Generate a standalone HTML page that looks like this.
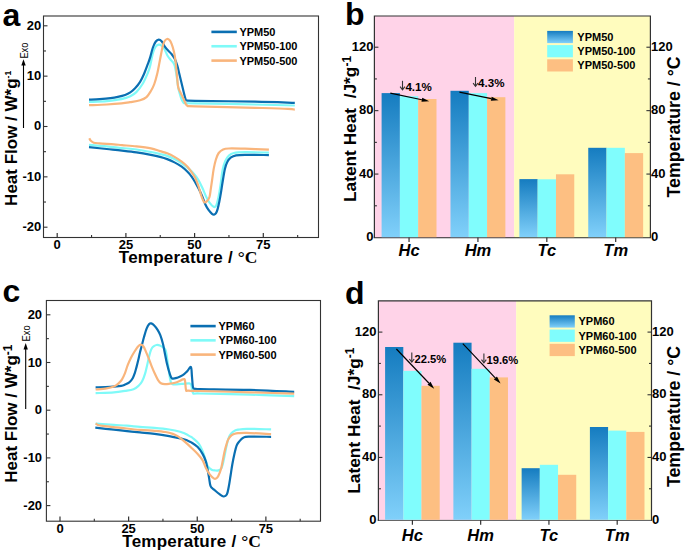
<!DOCTYPE html>
<html><head><meta charset="utf-8"><style>
html,body{margin:0;padding:0;background:#fff;width:685px;height:553px;overflow:hidden}
svg{display:block}
text{font-family:"Liberation Sans",sans-serif}
</style></head><body>
<svg width="685" height="553" viewBox="0 0 685 553">
<defs><linearGradient id="gb" x1="0" y1="0" x2="0" y2="1"><stop offset="0" stop-color="#157cc0"/><stop offset="1" stop-color="#80d0fa"/></linearGradient></defs>
<rect width="685" height="553" fill="#fff"/>
<path d="M89.00 101.90 C91.98 101.78 102.10 101.57 106.90 101.20 C111.70 100.83 114.77 100.22 117.80 99.70 C120.83 99.18 123.02 98.67 125.10 98.10 C127.18 97.53 128.43 97.30 130.30 96.30 C132.17 95.30 134.23 94.18 136.30 92.10 C138.37 90.02 140.78 86.98 142.70 83.80 C144.62 80.62 146.58 75.88 147.80 73.00 C149.02 70.12 149.15 69.80 150.00 66.50 C150.85 63.20 151.93 56.53 152.90 53.20 C153.87 49.87 154.83 47.93 155.80 46.50 C156.77 45.07 157.73 44.75 158.70 44.60 C159.67 44.45 160.63 44.83 161.60 45.60 C162.57 46.37 163.53 47.55 164.50 49.20 C165.47 50.85 166.45 53.82 167.40 55.50 C168.35 57.18 169.25 58.15 170.20 59.30 C171.15 60.45 172.35 61.35 173.10 62.40 C173.85 63.45 174.17 63.73 174.70 65.60 C175.23 67.47 175.72 70.00 176.30 73.60 C176.88 77.20 177.58 83.73 178.20 87.20 C178.82 90.67 179.40 92.28 180.00 94.40 C180.60 96.52 181.20 98.50 181.80 99.90 C182.40 101.30 182.90 102.27 183.60 102.80 C184.30 103.33 184.10 103.02 186.00 103.10 C187.90 103.18 183.50 103.07 195.00 103.30 C206.50 103.53 238.37 104.13 255.00 104.50 C271.63 104.87 288.17 105.33 294.80 105.50" fill="none" stroke="#7ffaf8" stroke-width="2.20" stroke-linejoin="round" stroke-linecap="butt"/>
<path d="M89.00 99.70 C90.77 99.60 96.02 99.37 99.60 99.10 C103.18 98.83 107.47 98.47 110.50 98.10 C113.53 97.73 115.37 97.42 117.80 96.90 C120.23 96.38 123.02 95.75 125.10 95.00 C127.18 94.25 128.63 93.52 130.30 92.40 C131.97 91.28 133.47 90.05 135.10 88.30 C136.73 86.55 138.63 84.23 140.10 81.90 C141.57 79.57 142.62 77.25 143.90 74.30 C145.18 71.35 146.78 66.93 147.80 64.20 C148.82 61.47 149.15 60.68 150.00 57.90 C150.85 55.12 151.93 50.23 152.90 47.50 C153.87 44.77 154.83 42.82 155.80 41.50 C156.77 40.18 157.73 39.65 158.70 39.60 C159.67 39.55 160.63 40.12 161.60 41.20 C162.57 42.28 163.42 44.53 164.50 46.10 C165.58 47.67 166.90 49.25 168.10 50.60 C169.30 51.95 170.62 52.87 171.70 54.20 C172.78 55.53 173.67 56.70 174.60 58.60 C175.53 60.50 176.52 63.07 177.30 65.60 C178.08 68.13 178.62 70.97 179.30 73.80 C179.98 76.63 180.68 79.62 181.40 82.60 C182.12 85.58 182.93 89.03 183.60 91.70 C184.27 94.37 184.83 97.13 185.40 98.60 C185.97 100.07 185.40 100.13 187.00 100.50 C188.60 100.87 183.67 100.60 195.00 100.80 C206.33 101.00 238.37 101.37 255.00 101.70 C271.63 102.03 288.17 102.62 294.80 102.80" fill="none" stroke="#0a6fb2" stroke-width="2.20" stroke-linejoin="round" stroke-linecap="butt"/>
<path d="M89.00 105.20 C91.98 105.08 101.48 104.80 106.90 104.50 C112.32 104.20 117.65 103.78 121.50 103.40 C125.35 103.02 126.90 102.72 130.00 102.20 C133.10 101.68 137.35 101.15 140.10 100.30 C142.85 99.45 144.70 98.65 146.50 97.10 C148.30 95.55 149.60 93.18 150.90 91.00 C152.20 88.82 153.22 87.00 154.30 84.00 C155.38 81.00 156.55 76.52 157.40 73.00 C158.25 69.48 158.77 66.15 159.40 62.90 C160.03 59.65 160.65 56.27 161.20 53.50 C161.75 50.73 162.15 48.35 162.70 46.30 C163.25 44.25 163.78 42.42 164.50 41.20 C165.22 39.98 166.17 39.18 167.00 39.00 C167.83 38.82 168.72 39.25 169.50 40.10 C170.28 40.95 170.97 42.22 171.70 44.10 C172.43 45.98 173.28 48.75 173.90 51.40 C174.52 54.05 175.00 57.05 175.40 60.00 C175.80 62.95 176.00 66.08 176.30 69.10 C176.60 72.12 176.88 75.08 177.20 78.10 C177.52 81.12 177.58 84.63 178.20 87.20 C178.82 89.77 180.00 91.53 180.90 93.50 C181.80 95.47 182.77 97.22 183.60 99.00 C184.43 100.78 185.15 103.03 185.90 104.20 C186.65 105.37 186.58 105.65 188.10 106.00 C189.62 106.35 183.85 106.00 195.00 106.30 C206.15 106.60 239.52 107.38 255.00 107.80 C270.48 108.22 281.27 108.48 287.90 108.80 C294.53 109.12 293.65 109.55 294.80 109.70" fill="none" stroke="#f9b57c" stroke-width="2.20" stroke-linejoin="round" stroke-linecap="butt"/>
<path d="M89.00 144.80 C91.95 145.05 101.20 145.77 106.70 146.30 C112.20 146.83 117.03 147.47 122.00 148.00 C126.97 148.53 131.68 148.83 136.50 149.50 C141.32 150.17 146.98 151.25 150.90 152.00 C154.82 152.75 157.28 153.35 160.00 154.00 C162.72 154.65 164.78 155.05 167.20 155.90 C169.62 156.75 172.08 157.85 174.50 159.10 C176.92 160.35 179.30 161.77 181.70 163.40 C184.10 165.03 186.85 167.15 188.90 168.90 C190.95 170.65 192.43 172.10 194.00 173.90 C195.57 175.70 196.93 177.43 198.30 179.70 C199.67 181.97 200.87 184.62 202.20 187.50 C203.53 190.38 205.08 194.48 206.30 197.00 C207.52 199.52 208.28 200.97 209.50 202.60 C210.72 204.23 212.52 206.25 213.60 206.80 C214.68 207.35 215.33 206.87 216.00 205.90 C216.67 204.93 217.05 203.17 217.60 201.00 C218.15 198.83 218.75 195.98 219.30 192.90 C219.85 189.82 220.35 186.32 220.90 182.50 C221.45 178.68 221.87 173.58 222.60 170.00 C223.33 166.42 224.25 163.40 225.30 161.00 C226.35 158.60 227.47 156.93 228.90 155.60 C230.33 154.27 231.22 153.57 233.90 153.00 C236.58 152.43 239.17 152.27 245.00 152.20 C250.83 152.13 264.92 152.53 268.90 152.60" fill="none" stroke="#7ffaf8" stroke-width="2.20" stroke-linejoin="round" stroke-linecap="butt"/>
<path d="M89.00 147.10 C91.95 147.42 101.20 148.42 106.70 149.00 C112.20 149.58 117.03 150.03 122.00 150.60 C126.97 151.17 131.68 151.68 136.50 152.40 C141.32 153.12 146.98 154.15 150.90 154.90 C154.82 155.65 157.28 156.20 160.00 156.90 C162.72 157.60 164.78 158.18 167.20 159.10 C169.62 160.02 172.08 161.13 174.50 162.40 C176.92 163.67 179.53 165.13 181.70 166.70 C183.87 168.27 185.82 170.12 187.50 171.80 C189.18 173.48 190.48 175.00 191.80 176.80 C193.12 178.60 194.27 180.65 195.40 182.60 C196.53 184.55 197.47 186.25 198.60 188.50 C199.73 190.75 201.07 193.43 202.20 196.10 C203.33 198.77 204.32 202.15 205.40 204.50 C206.48 206.85 207.60 208.65 208.70 210.20 C209.80 211.75 211.12 213.07 212.00 213.80 C212.88 214.53 213.33 214.70 214.00 214.60 C214.67 214.50 215.40 214.12 216.00 213.20 C216.60 212.28 217.05 211.00 217.60 209.10 C218.15 207.20 218.75 204.50 219.30 201.80 C219.85 199.10 220.35 196.20 220.90 192.90 C221.45 189.60 221.93 186.00 222.60 182.00 C223.27 178.00 224.10 172.28 224.90 168.90 C225.70 165.52 226.38 163.62 227.40 161.70 C228.42 159.78 229.55 158.47 231.00 157.40 C232.45 156.33 233.77 155.73 236.10 155.30 C238.43 154.87 239.53 154.83 245.00 154.80 C250.47 154.77 264.92 155.05 268.90 155.10" fill="none" stroke="#0a6fb2" stroke-width="2.20" stroke-linejoin="round" stroke-linecap="butt"/>
<path d="M89.30 138.30 C89.55 138.72 90.07 140.07 90.80 140.80 C91.53 141.53 92.25 142.27 93.70 142.70 C95.15 143.13 96.13 143.13 99.50 143.40 C102.87 143.67 110.15 144.02 113.90 144.30 C117.65 144.58 118.23 144.75 122.00 145.10 C125.77 145.45 131.68 145.85 136.50 146.40 C141.32 146.95 146.98 147.62 150.90 148.40 C154.82 149.18 157.28 150.28 160.00 151.10 C162.72 151.92 164.78 152.33 167.20 153.30 C169.62 154.27 172.08 155.52 174.50 156.90 C176.92 158.28 179.53 159.97 181.70 161.60 C183.87 163.23 185.82 164.88 187.50 166.70 C189.18 168.52 190.48 170.57 191.80 172.50 C193.12 174.43 194.27 175.97 195.40 178.30 C196.53 180.63 197.60 183.55 198.60 186.50 C199.60 189.45 200.47 193.38 201.40 196.00 C202.33 198.62 203.25 201.37 204.20 202.20 C205.15 203.03 206.22 201.87 207.10 201.00 C207.98 200.13 208.90 198.90 209.50 197.00 C210.10 195.10 210.27 192.43 210.70 189.60 C211.13 186.77 211.60 183.45 212.10 180.00 C212.60 176.55 213.07 172.32 213.70 168.90 C214.33 165.48 215.07 162.15 215.90 159.50 C216.73 156.85 217.50 154.68 218.70 153.00 C219.90 151.32 221.40 150.15 223.10 149.40 C224.80 148.65 225.25 148.62 228.90 148.50 C232.55 148.38 238.33 148.52 245.00 148.70 C251.67 148.88 264.92 149.45 268.90 149.60" fill="none" stroke="#f9b57c" stroke-width="2.20" stroke-linejoin="round" stroke-linecap="butt"/>
<rect x="43.50" y="16.00" width="275.00" height="221.50" fill="none" stroke="#333" stroke-width="1.1"/>
<line x1="43.50" y1="25.80" x2="47.50" y2="25.80" stroke="#333" stroke-width="1.1"/>
<text x="41.20" y="29.55" font-size="13.00" font-weight="bold" font-style="normal" text-anchor="end" font-family='"Liberation Sans", sans-serif' >20</text>
<line x1="43.50" y1="76.15" x2="47.50" y2="76.15" stroke="#333" stroke-width="1.1"/>
<text x="41.20" y="79.90" font-size="13.00" font-weight="bold" font-style="normal" text-anchor="end" font-family='"Liberation Sans", sans-serif' >10</text>
<line x1="43.50" y1="126.50" x2="47.50" y2="126.50" stroke="#333" stroke-width="1.1"/>
<text x="41.20" y="130.25" font-size="13.00" font-weight="bold" font-style="normal" text-anchor="end" font-family='"Liberation Sans", sans-serif' >0</text>
<line x1="43.50" y1="176.85" x2="47.50" y2="176.85" stroke="#333" stroke-width="1.1"/>
<text x="41.20" y="180.60" font-size="13.00" font-weight="bold" font-style="normal" text-anchor="end" font-family='"Liberation Sans", sans-serif' >-10</text>
<line x1="43.50" y1="227.20" x2="47.50" y2="227.20" stroke="#333" stroke-width="1.1"/>
<text x="41.20" y="230.95" font-size="13.00" font-weight="bold" font-style="normal" text-anchor="end" font-family='"Liberation Sans", sans-serif' >-20</text>
<line x1="43.50" y1="50.97" x2="46.00" y2="50.97" stroke="#333" stroke-width="1.1"/>
<line x1="43.50" y1="101.33" x2="46.00" y2="101.33" stroke="#333" stroke-width="1.1"/>
<line x1="43.50" y1="151.68" x2="46.00" y2="151.68" stroke="#333" stroke-width="1.1"/>
<line x1="43.50" y1="202.03" x2="46.00" y2="202.03" stroke="#333" stroke-width="1.1"/>
<line x1="57.20" y1="237.50" x2="57.20" y2="232.90" stroke="#333" stroke-width="1.2"/>
<text x="57.20" y="248.80" font-size="13.00" font-weight="bold" font-style="normal" text-anchor="middle" font-family='"Liberation Sans", sans-serif' >0</text>
<line x1="125.90" y1="237.50" x2="125.90" y2="232.90" stroke="#333" stroke-width="1.2"/>
<text x="125.90" y="248.80" font-size="13.00" font-weight="bold" font-style="normal" text-anchor="middle" font-family='"Liberation Sans", sans-serif' >25</text>
<line x1="194.60" y1="237.50" x2="194.60" y2="232.90" stroke="#333" stroke-width="1.2"/>
<text x="194.60" y="248.80" font-size="13.00" font-weight="bold" font-style="normal" text-anchor="middle" font-family='"Liberation Sans", sans-serif' >50</text>
<line x1="263.30" y1="237.50" x2="263.30" y2="232.90" stroke="#333" stroke-width="1.2"/>
<text x="263.30" y="248.80" font-size="13.00" font-weight="bold" font-style="normal" text-anchor="middle" font-family='"Liberation Sans", sans-serif' >75</text>
<line x1="91.55" y1="237.50" x2="91.55" y2="235.00" stroke="#333" stroke-width="1.1"/>
<line x1="160.25" y1="237.50" x2="160.25" y2="235.00" stroke="#333" stroke-width="1.1"/>
<line x1="228.95" y1="237.50" x2="228.95" y2="235.00" stroke="#333" stroke-width="1.1"/>
<line x1="297.65" y1="237.50" x2="297.65" y2="235.00" stroke="#333" stroke-width="1.1"/>
<line x1="211.40" y1="31.90" x2="236.80" y2="31.90" stroke="#0a6fb2" stroke-width="2.6"/>
<text x="239.40" y="35.90" font-size="11.00" font-weight="bold" font-style="normal" text-anchor="start" font-family='"Liberation Sans", sans-serif' >YPM50</text>
<line x1="211.40" y1="46.25" x2="236.80" y2="46.25" stroke="#7ffaf8" stroke-width="2.6"/>
<text x="239.40" y="50.25" font-size="11.00" font-weight="bold" font-style="normal" text-anchor="start" font-family='"Liberation Sans", sans-serif' >YPM50-100</text>
<line x1="211.40" y1="60.60" x2="236.80" y2="60.60" stroke="#f9b57c" stroke-width="2.6"/>
<text x="239.40" y="64.60" font-size="11.00" font-weight="bold" font-style="normal" text-anchor="start" font-family='"Liberation Sans", sans-serif' >YPM50-500</text>
<text x="2.50" y="25.50" font-size="32.00" font-weight="bold" font-style="normal" text-anchor="start" font-family='"Liberation Sans", sans-serif' >a</text>
<text transform="translate(16.80 205.90) rotate(-90)" font-size="17" font-weight="bold" font-family='"Liberation Sans", sans-serif' text-anchor="start">Heat Flow / W*g<tspan font-size="8.6" dy="-6.2">-1</tspan></text>
<line x1="23.50" y1="128.00" x2="23.50" y2="64.20" stroke="#000" stroke-width="1.1"/>
<path d="M23.50 59.20 L21.30 65.50 L25.70 65.50 Z" fill="#000"/>
<text transform="translate(28.00 58.60) rotate(-90) scale(0.88 1)" font-size="10.6" font-family='"Liberation Sans", sans-serif' text-anchor="start">Exo</text>
<text x="118.80" y="262.60" font-size="17" font-weight="bold" font-family='"Liberation Sans", sans-serif' letter-spacing="0.22">Temperature / <tspan font-family='"Liberation Serif", serif' font-weight="bold" font-size="17.5" letter-spacing="0">°C</tspan></text>
<path d="M95.60 393.10 C98.65 392.98 109.00 392.77 113.90 392.40 C118.80 392.03 121.73 391.43 125.00 390.90 C128.27 390.37 131.23 390.05 133.50 389.20 C135.77 388.35 137.18 387.07 138.60 385.80 C140.02 384.53 140.93 383.58 142.00 381.60 C143.07 379.62 144.15 376.60 145.00 373.90 C145.85 371.20 146.47 368.08 147.10 365.40 C147.73 362.72 148.27 360.03 148.80 357.80 C149.33 355.57 149.77 353.63 150.30 352.00 C150.83 350.37 151.38 348.98 152.00 348.00 C152.62 347.02 153.25 346.60 154.00 346.10 C154.75 345.60 155.52 345.10 156.50 345.00 C157.48 344.90 158.67 345.00 159.90 345.50 C161.13 346.00 162.92 347.10 163.90 348.00 C164.88 348.90 165.23 348.92 165.80 350.90 C166.37 352.88 166.80 356.75 167.30 359.90 C167.80 363.05 168.30 366.48 168.80 369.80 C169.30 373.12 169.68 377.40 170.30 379.80 C170.92 382.20 170.60 383.52 172.50 384.20 C174.40 384.88 178.90 384.03 181.70 383.90 C184.50 383.77 187.68 383.13 189.30 383.40 C190.92 383.67 190.77 383.88 191.40 385.50 C192.03 387.12 191.67 391.77 193.10 393.10 C194.53 394.43 190.52 393.25 200.00 393.50 C209.48 393.75 234.30 394.15 250.00 394.60 C265.70 395.05 286.83 395.93 294.20 396.20" fill="none" stroke="#7ffaf8" stroke-width="2.20" stroke-linejoin="round" stroke-linecap="butt"/>
<path d="M95.60 387.30 C98.03 387.22 105.93 387.05 110.20 386.80 C114.47 386.55 118.73 386.17 121.20 385.80 C123.67 385.43 123.65 385.17 125.00 384.60 C126.35 384.03 128.02 383.47 129.30 382.40 C130.58 381.33 131.78 379.75 132.70 378.20 C133.62 376.65 134.17 374.95 134.80 373.10 C135.43 371.25 135.93 369.23 136.50 367.10 C137.07 364.97 137.63 362.70 138.20 360.30 C138.77 357.90 139.33 355.05 139.90 352.70 C140.47 350.35 140.92 348.82 141.60 346.20 C142.28 343.58 143.15 339.98 144.00 337.00 C144.85 334.02 145.83 330.47 146.70 328.30 C147.57 326.13 148.45 324.82 149.20 324.00 C149.95 323.18 150.40 323.20 151.20 323.40 C152.00 323.60 152.93 324.13 154.00 325.20 C155.07 326.27 156.55 328.13 157.60 329.80 C158.65 331.47 159.40 332.83 160.30 335.20 C161.20 337.57 162.28 341.20 163.00 344.00 C163.72 346.80 163.97 348.85 164.60 352.00 C165.23 355.15 165.93 359.27 166.80 362.90 C167.67 366.53 168.93 371.22 169.80 373.80 C170.67 376.38 170.75 377.75 172.00 378.40 C173.25 379.05 175.50 378.23 177.30 377.70 C179.10 377.17 181.17 376.25 182.80 375.20 C184.43 374.15 185.75 372.75 187.10 371.40 C188.45 370.05 190.08 366.18 190.90 367.10 C191.72 368.02 191.63 373.47 192.00 376.90 C192.37 380.33 192.47 385.72 193.10 387.70 C193.73 389.68 194.65 388.57 195.80 388.80 C196.95 389.03 190.97 388.92 200.00 389.10 C209.03 389.28 234.30 389.45 250.00 389.90 C265.70 390.35 286.83 391.48 294.20 391.80" fill="none" stroke="#0a6fb2" stroke-width="2.20" stroke-linejoin="round" stroke-linecap="butt"/>
<path d="M95.60 389.50 C97.43 389.32 103.55 388.90 106.60 388.40 C109.65 387.90 111.95 387.30 113.90 386.50 C115.85 385.70 116.97 384.75 118.30 383.60 C119.63 382.45 120.78 381.35 121.90 379.60 C123.02 377.85 124.05 375.47 125.00 373.10 C125.95 370.73 126.60 367.95 127.60 365.40 C128.60 362.85 129.87 360.07 131.00 357.80 C132.13 355.53 133.27 353.65 134.40 351.80 C135.53 349.95 136.78 347.90 137.80 346.70 C138.82 345.50 139.55 344.63 140.50 344.60 C141.45 344.57 142.58 345.28 143.50 346.50 C144.42 347.72 145.10 349.83 146.00 351.90 C146.90 353.97 147.92 356.42 148.90 358.90 C149.88 361.38 150.90 364.32 151.90 366.80 C152.90 369.28 153.90 371.63 154.90 373.80 C155.90 375.97 156.90 378.23 157.90 379.80 C158.90 381.37 159.73 382.47 160.90 383.20 C162.07 383.93 163.42 384.12 164.90 384.20 C166.38 384.28 168.12 383.95 169.80 383.70 C171.48 383.45 173.38 383.15 175.00 382.70 C176.62 382.25 178.20 381.55 179.50 381.00 C180.80 380.45 181.90 379.55 182.80 379.40 C183.70 379.25 184.37 378.35 184.90 380.10 C185.43 381.85 185.45 388.13 186.00 389.90 C186.55 391.67 185.87 390.52 188.20 390.70 C190.53 390.88 189.70 390.73 200.00 391.00 C210.30 391.27 234.30 391.85 250.00 392.30 C265.70 392.75 286.83 393.47 294.20 393.70" fill="none" stroke="#f9b57c" stroke-width="2.20" stroke-linejoin="round" stroke-linecap="butt"/>
<path d="M95.60 423.70 C98.65 423.90 108.67 424.57 113.90 424.90 C119.13 425.23 122.65 425.37 127.00 425.70 C131.35 426.03 135.40 426.53 140.00 426.90 C144.60 427.27 149.73 427.47 154.60 427.90 C159.47 428.33 164.95 428.87 169.20 429.50 C173.45 430.13 177.42 430.98 180.10 431.70 C182.78 432.42 183.65 433.02 185.30 433.80 C186.95 434.58 188.78 435.70 190.00 436.40 C191.22 437.10 191.12 436.75 192.60 438.00 C194.08 439.25 197.22 441.65 198.90 443.90 C200.58 446.15 201.63 448.97 202.70 451.50 C203.77 454.03 204.45 456.63 205.30 459.10 C206.15 461.57 206.75 464.53 207.80 466.30 C208.85 468.07 210.32 469.00 211.60 469.70 C212.88 470.40 214.35 470.38 215.50 470.50 C216.65 470.62 217.58 470.67 218.50 470.40 C219.42 470.13 220.30 469.88 221.00 468.90 C221.70 467.92 222.05 466.97 222.70 464.50 C223.35 462.03 224.25 457.28 224.90 454.10 C225.55 450.92 225.95 448.15 226.60 445.40 C227.25 442.65 228.00 439.63 228.80 437.60 C229.60 435.57 230.38 434.37 231.40 433.20 C232.42 432.03 233.80 431.18 234.90 430.60 C236.00 430.02 236.00 430.00 238.00 429.70 C240.00 429.40 241.38 428.85 246.90 428.80 C252.42 428.75 267.07 429.30 271.10 429.40" fill="none" stroke="#7ffaf8" stroke-width="2.20" stroke-linejoin="round" stroke-linecap="butt"/>
<path d="M95.30 427.70 C98.40 428.03 108.62 429.13 113.90 429.70 C119.18 430.27 122.65 430.65 127.00 431.10 C131.35 431.55 135.40 431.93 140.00 432.40 C144.60 432.87 149.73 433.28 154.60 433.90 C159.47 434.52 165.30 435.43 169.20 436.10 C173.10 436.77 175.57 437.37 178.00 437.90 C180.43 438.43 182.22 438.85 183.80 439.30 C185.38 439.75 186.25 440.08 187.50 440.60 C188.75 441.12 189.60 441.32 191.30 442.40 C193.00 443.48 195.80 445.15 197.70 447.10 C199.60 449.05 201.33 451.68 202.70 454.10 C204.07 456.52 205.05 458.87 205.90 461.60 C206.75 464.33 207.27 467.75 207.80 470.50 C208.33 473.25 208.68 475.63 209.10 478.10 C209.52 480.57 209.85 483.68 210.30 485.30 C210.75 486.92 211.17 487.07 211.80 487.80 C212.43 488.53 212.87 488.68 214.10 489.70 C215.33 490.72 217.62 492.77 219.20 493.90 C220.78 495.03 222.33 496.38 223.60 496.50 C224.87 496.62 225.95 496.18 226.80 494.60 C227.65 493.02 228.08 490.10 228.70 487.00 C229.32 483.90 229.90 479.75 230.50 476.00 C231.10 472.25 231.65 468.15 232.30 464.50 C232.95 460.85 233.68 457.25 234.40 454.10 C235.12 450.95 235.73 447.77 236.60 445.60 C237.47 443.43 238.50 442.40 239.60 441.10 C240.70 439.80 241.73 438.53 243.20 437.80 C244.67 437.07 243.75 436.87 248.40 436.70 C253.05 436.53 267.32 436.78 271.10 436.80" fill="none" stroke="#0a6fb2" stroke-width="2.20" stroke-linejoin="round" stroke-linecap="butt"/>
<path d="M95.60 423.50 C95.97 423.73 96.57 424.50 97.80 424.90 C99.03 425.30 99.10 425.40 103.00 425.90 C106.90 426.40 115.03 427.23 121.20 427.90 C127.37 428.57 134.43 429.42 140.00 429.90 C145.57 430.38 150.35 430.45 154.60 430.80 C158.85 431.15 162.47 431.48 165.50 432.00 C168.53 432.52 170.72 433.17 172.80 433.90 C174.88 434.63 176.42 435.43 178.00 436.40 C179.58 437.37 180.85 438.53 182.30 439.70 C183.75 440.87 185.20 442.07 186.70 443.40 C188.20 444.73 189.47 445.92 191.30 447.70 C193.13 449.48 195.80 451.98 197.70 454.10 C199.60 456.22 201.33 458.08 202.70 460.40 C204.07 462.72 204.73 465.68 205.90 468.00 C207.07 470.32 208.33 472.53 209.70 474.30 C211.07 476.07 212.97 477.95 214.10 478.60 C215.23 479.25 215.80 478.62 216.50 478.20 C217.20 477.78 217.55 477.63 218.30 476.10 C219.05 474.57 220.27 471.52 221.00 469.00 C221.73 466.48 222.13 463.78 222.70 461.00 C223.27 458.22 223.82 454.90 224.40 452.30 C224.98 449.70 225.55 447.57 226.20 445.40 C226.85 443.23 227.43 440.97 228.30 439.30 C229.17 437.63 230.30 436.33 231.40 435.40 C232.50 434.47 233.80 434.07 234.90 433.70 C236.00 433.33 236.00 433.33 238.00 433.20 C240.00 433.07 241.38 432.75 246.90 432.90 C252.42 433.05 267.07 433.90 271.10 434.10" fill="none" stroke="#f9b57c" stroke-width="2.20" stroke-linejoin="round" stroke-linecap="butt"/>
<rect x="46.40" y="300.50" width="274.10" height="220.70" fill="none" stroke="#333" stroke-width="1.1"/>
<line x1="46.40" y1="314.80" x2="50.40" y2="314.80" stroke="#333" stroke-width="1.1"/>
<text x="42.10" y="318.90" font-size="13.00" font-weight="bold" font-style="normal" text-anchor="end" font-family='"Liberation Sans", sans-serif' >20</text>
<line x1="46.40" y1="362.50" x2="50.40" y2="362.50" stroke="#333" stroke-width="1.1"/>
<text x="42.10" y="366.60" font-size="13.00" font-weight="bold" font-style="normal" text-anchor="end" font-family='"Liberation Sans", sans-serif' >10</text>
<line x1="46.40" y1="410.20" x2="50.40" y2="410.20" stroke="#333" stroke-width="1.1"/>
<text x="42.10" y="414.30" font-size="13.00" font-weight="bold" font-style="normal" text-anchor="end" font-family='"Liberation Sans", sans-serif' >0</text>
<line x1="46.40" y1="457.90" x2="50.40" y2="457.90" stroke="#333" stroke-width="1.1"/>
<text x="42.10" y="462.00" font-size="13.00" font-weight="bold" font-style="normal" text-anchor="end" font-family='"Liberation Sans", sans-serif' >-10</text>
<line x1="46.40" y1="505.60" x2="50.40" y2="505.60" stroke="#333" stroke-width="1.1"/>
<text x="42.10" y="509.70" font-size="13.00" font-weight="bold" font-style="normal" text-anchor="end" font-family='"Liberation Sans", sans-serif' >-20</text>
<line x1="46.40" y1="338.65" x2="48.90" y2="338.65" stroke="#333" stroke-width="1.1"/>
<line x1="46.40" y1="386.35" x2="48.90" y2="386.35" stroke="#333" stroke-width="1.1"/>
<line x1="46.40" y1="434.05" x2="48.90" y2="434.05" stroke="#333" stroke-width="1.1"/>
<line x1="46.40" y1="481.75" x2="48.90" y2="481.75" stroke="#333" stroke-width="1.1"/>
<line x1="60.00" y1="521.20" x2="60.00" y2="516.60" stroke="#333" stroke-width="1.2"/>
<text x="60.00" y="532.50" font-size="13.00" font-weight="bold" font-style="normal" text-anchor="middle" font-family='"Liberation Sans", sans-serif' >0</text>
<line x1="128.62" y1="521.20" x2="128.62" y2="516.60" stroke="#333" stroke-width="1.2"/>
<text x="128.62" y="532.50" font-size="13.00" font-weight="bold" font-style="normal" text-anchor="middle" font-family='"Liberation Sans", sans-serif' >25</text>
<line x1="197.25" y1="521.20" x2="197.25" y2="516.60" stroke="#333" stroke-width="1.2"/>
<text x="197.25" y="532.50" font-size="13.00" font-weight="bold" font-style="normal" text-anchor="middle" font-family='"Liberation Sans", sans-serif' >50</text>
<line x1="265.88" y1="521.20" x2="265.88" y2="516.60" stroke="#333" stroke-width="1.2"/>
<text x="265.88" y="532.50" font-size="13.00" font-weight="bold" font-style="normal" text-anchor="middle" font-family='"Liberation Sans", sans-serif' >75</text>
<line x1="94.31" y1="521.20" x2="94.31" y2="518.70" stroke="#333" stroke-width="1.1"/>
<line x1="162.94" y1="521.20" x2="162.94" y2="518.70" stroke="#333" stroke-width="1.1"/>
<line x1="231.56" y1="521.20" x2="231.56" y2="518.70" stroke="#333" stroke-width="1.1"/>
<line x1="300.19" y1="521.20" x2="300.19" y2="518.70" stroke="#333" stroke-width="1.1"/>
<line x1="190.40" y1="326.10" x2="215.70" y2="326.10" stroke="#0a6fb2" stroke-width="2.6"/>
<text x="218.50" y="330.10" font-size="11.00" font-weight="bold" font-style="normal" text-anchor="start" font-family='"Liberation Sans", sans-serif' >YPM60</text>
<line x1="190.40" y1="340.35" x2="215.70" y2="340.35" stroke="#7ffaf8" stroke-width="2.6"/>
<text x="218.50" y="344.35" font-size="11.00" font-weight="bold" font-style="normal" text-anchor="start" font-family='"Liberation Sans", sans-serif' >YPM60-100</text>
<line x1="190.40" y1="354.60" x2="215.70" y2="354.60" stroke="#f9b57c" stroke-width="2.6"/>
<text x="218.50" y="358.60" font-size="11.00" font-weight="bold" font-style="normal" text-anchor="start" font-family='"Liberation Sans", sans-serif' >YPM60-500</text>
<text x="2.50" y="301.50" font-size="32.00" font-weight="bold" font-style="normal" text-anchor="start" font-family='"Liberation Sans", sans-serif' >c</text>
<text transform="translate(17.10 482.70) rotate(-90)" font-size="17" font-weight="bold" font-family='"Liberation Sans", sans-serif' text-anchor="start">Heat Flow / W*g<tspan font-size="12.0" dy="-5.4">-1</tspan></text>
<line x1="25.70" y1="409.00" x2="25.70" y2="348.10" stroke="#000" stroke-width="1.1"/>
<path d="M25.70 343.10 L23.50 349.40 L27.90 349.40 Z" fill="#000"/>
<text transform="translate(30.20 341.40) rotate(-90) scale(0.88 1)" font-size="10.6" font-family='"Liberation Sans", sans-serif' text-anchor="start">Exo</text>
<text x="122.30" y="547.10" font-size="17" font-weight="bold" font-family='"Liberation Sans", sans-serif' letter-spacing="0.22">Temperature / <tspan font-family='"Liberation Serif", serif' font-weight="bold" font-size="17.5" letter-spacing="0">°C</tspan></text>
<line x1="373.80" y1="237.50" x2="651.00" y2="237.50" stroke="#333" stroke-width="1.45"/>
<rect x="374.40" y="16.00" width="139.80" height="221.20" fill="#ffd3e8"/>
<rect x="514.20" y="16.00" width="136.20" height="221.20" fill="#fffcbe"/>
<rect x="381.60" y="93.10" width="18.30" height="144.10" fill="url(#gb)"/>
<rect x="399.90" y="96.20" width="18.30" height="141.00" fill="#80fdfd"/>
<rect x="418.20" y="99.00" width="18.30" height="138.20" fill="#fdbf82"/>
<rect x="450.48" y="90.80" width="18.30" height="146.40" fill="url(#gb)"/>
<rect x="468.78" y="93.10" width="18.30" height="144.10" fill="#80fdfd"/>
<rect x="487.08" y="97.20" width="18.30" height="140.00" fill="#fdbf82"/>
<rect x="519.37" y="179.10" width="18.30" height="58.10" fill="url(#gb)"/>
<rect x="537.67" y="179.30" width="18.30" height="57.90" fill="#80fdfd"/>
<rect x="555.97" y="174.30" width="18.30" height="62.90" fill="#fdbf82"/>
<rect x="588.25" y="147.80" width="18.30" height="89.40" fill="url(#gb)"/>
<rect x="606.55" y="147.80" width="18.30" height="89.40" fill="#80fdfd"/>
<rect x="624.85" y="153.10" width="18.30" height="84.10" fill="#fdbf82"/>
<path d="M374.40 238.10 V16.00 H650.40 V238.10" fill="none" stroke="#333" stroke-width="1.2"/>
<text x="373.50" y="241.20" font-size="13.00" font-weight="bold" font-style="normal" text-anchor="end" font-family='"Liberation Sans", sans-serif' >0</text>
<text x="651.00" y="241.20" font-size="13.00" font-weight="bold" font-style="normal" text-anchor="start" font-family='"Liberation Sans", sans-serif' >0</text>
<line x1="374.40" y1="174.07" x2="378.40" y2="174.07" stroke="#333" stroke-width="1.1"/>
<line x1="650.40" y1="174.07" x2="646.40" y2="174.07" stroke="#333" stroke-width="1.1"/>
<text x="373.50" y="177.77" font-size="13.00" font-weight="bold" font-style="normal" text-anchor="end" font-family='"Liberation Sans", sans-serif' >40</text>
<text x="651.00" y="177.77" font-size="13.00" font-weight="bold" font-style="normal" text-anchor="start" font-family='"Liberation Sans", sans-serif' >40</text>
<line x1="374.40" y1="110.64" x2="378.40" y2="110.64" stroke="#333" stroke-width="1.1"/>
<line x1="650.40" y1="110.64" x2="646.40" y2="110.64" stroke="#333" stroke-width="1.1"/>
<text x="373.50" y="114.34" font-size="13.00" font-weight="bold" font-style="normal" text-anchor="end" font-family='"Liberation Sans", sans-serif' >80</text>
<text x="651.00" y="114.34" font-size="13.00" font-weight="bold" font-style="normal" text-anchor="start" font-family='"Liberation Sans", sans-serif' >80</text>
<line x1="374.40" y1="47.22" x2="378.40" y2="47.22" stroke="#333" stroke-width="1.1"/>
<line x1="650.40" y1="47.22" x2="646.40" y2="47.22" stroke="#333" stroke-width="1.1"/>
<text x="373.50" y="50.92" font-size="13.00" font-weight="bold" font-style="normal" text-anchor="end" font-family='"Liberation Sans", sans-serif' >120</text>
<text x="651.00" y="50.92" font-size="13.00" font-weight="bold" font-style="normal" text-anchor="start" font-family='"Liberation Sans", sans-serif' >120</text>
<line x1="374.40" y1="205.79" x2="376.90" y2="205.79" stroke="#333" stroke-width="1.1"/>
<line x1="650.40" y1="205.79" x2="647.90" y2="205.79" stroke="#333" stroke-width="1.1"/>
<line x1="374.40" y1="142.36" x2="376.90" y2="142.36" stroke="#333" stroke-width="1.1"/>
<line x1="650.40" y1="142.36" x2="647.90" y2="142.36" stroke="#333" stroke-width="1.1"/>
<line x1="374.40" y1="78.93" x2="376.90" y2="78.93" stroke="#333" stroke-width="1.1"/>
<line x1="650.40" y1="78.93" x2="647.90" y2="78.93" stroke="#333" stroke-width="1.1"/>
<line x1="409.05" y1="237.50" x2="409.05" y2="242.10" stroke="#333" stroke-width="1.2"/>
<text x="409.05" y="255.80" font-size="16.50" font-weight="bold" font-style="italic" text-anchor="middle" font-family='"Liberation Sans", sans-serif' >Hc</text>
<line x1="477.93" y1="237.50" x2="477.93" y2="242.10" stroke="#333" stroke-width="1.2"/>
<text x="477.93" y="255.80" font-size="16.50" font-weight="bold" font-style="italic" text-anchor="middle" font-family='"Liberation Sans", sans-serif' >Hm</text>
<line x1="546.82" y1="237.50" x2="546.82" y2="242.10" stroke="#333" stroke-width="1.2"/>
<text x="546.82" y="255.80" font-size="16.50" font-weight="bold" font-style="italic" text-anchor="middle" font-family='"Liberation Sans", sans-serif' >Tc</text>
<line x1="615.70" y1="237.50" x2="615.70" y2="242.10" stroke="#333" stroke-width="1.2"/>
<text x="615.70" y="255.80" font-size="16.50" font-weight="bold" font-style="italic" text-anchor="middle" font-family='"Liberation Sans", sans-serif' >Tm</text>
<rect x="547.20" y="30.90" width="25.70" height="12.20" fill="url(#gb)"/>
<text x="577.30" y="40.90" font-size="11.00" font-weight="bold" font-style="normal" text-anchor="start" font-family='"Liberation Sans", sans-serif' >YPM50</text>
<rect x="547.20" y="45.10" width="25.70" height="12.20" fill="#80fdfd"/>
<text x="577.30" y="55.10" font-size="11.00" font-weight="bold" font-style="normal" text-anchor="start" font-family='"Liberation Sans", sans-serif' >YPM50-100</text>
<rect x="547.20" y="59.30" width="25.70" height="12.20" fill="#fdbf82"/>
<text x="577.30" y="69.30" font-size="11.00" font-weight="bold" font-style="normal" text-anchor="start" font-family='"Liberation Sans", sans-serif' >YPM50-500</text>
<text x="345.00" y="25.00" font-size="32.00" font-weight="bold" font-style="normal" text-anchor="start" font-family='"Liberation Sans", sans-serif' >b</text>
<line x1="390.30" y1="93.10" x2="421.86" y2="99.75" stroke="#000" stroke-width="1.15"/>
<path d="M429.20 101.30 L421.43 101.81 L422.29 97.70 Z" fill="#000"/>
<line x1="459.40" y1="92.10" x2="491.26" y2="98.68" stroke="#000" stroke-width="1.15"/>
<path d="M498.60 100.20 L490.83 100.74 L491.68 96.63 Z" fill="#000"/>
<line x1="402.50" y1="80.80" x2="402.50" y2="89.40" stroke="#333" stroke-width="1.1"/>
<path d="M400.10 86.70 L402.50 89.90 L404.90 86.70" fill="none" stroke="#333" stroke-width="1.1"/>
<text x="405.40" y="90.80" font-size="11.60" font-weight="bold" font-family='"Liberation Sans", sans-serif'>4.1%</text>
<line x1="475.50" y1="77.00" x2="475.50" y2="85.80" stroke="#333" stroke-width="1.1"/>
<path d="M473.10 83.10 L475.50 86.30 L477.90 83.10" fill="none" stroke="#333" stroke-width="1.1"/>
<text x="478.10" y="86.60" font-size="11.60" font-weight="bold" font-family='"Liberation Sans", sans-serif'>4.3%</text>
<text transform="translate(356.20 202.00) rotate(-90)" font-size="17.3" font-weight="bold" font-family='"Liberation Sans", sans-serif' text-anchor="start" style="white-space:pre">Latent Heat  /J*g<tspan font-size="12" dy="-5.6">-1</tspan></text>
<text transform="translate(680.20 126.90) rotate(-90)" font-size="17.8" font-weight="bold" font-family='"Liberation Sans", sans-serif' text-anchor="middle">Temperature / °C</text>
<line x1="377.80" y1="520.10" x2="652.10" y2="520.10" stroke="#333" stroke-width="1.45"/>
<rect x="378.40" y="300.80" width="137.80" height="219.00" fill="#ffd3e8"/>
<rect x="516.20" y="300.80" width="135.30" height="219.00" fill="#fffcbe"/>
<rect x="385.10" y="347.00" width="18.20" height="172.80" fill="url(#gb)"/>
<rect x="403.30" y="370.90" width="18.20" height="148.90" fill="#80fdfd"/>
<rect x="421.50" y="385.80" width="18.20" height="134.00" fill="#fdbf82"/>
<rect x="453.37" y="342.70" width="18.20" height="177.10" fill="url(#gb)"/>
<rect x="471.57" y="368.80" width="18.20" height="151.00" fill="#80fdfd"/>
<rect x="489.77" y="377.40" width="18.20" height="142.40" fill="#fdbf82"/>
<rect x="521.63" y="468.20" width="18.20" height="51.60" fill="url(#gb)"/>
<rect x="539.83" y="464.80" width="18.20" height="55.00" fill="#80fdfd"/>
<rect x="558.03" y="474.80" width="18.20" height="45.00" fill="#fdbf82"/>
<rect x="589.90" y="427.00" width="18.20" height="92.80" fill="url(#gb)"/>
<rect x="608.10" y="430.60" width="18.20" height="89.20" fill="#80fdfd"/>
<rect x="626.30" y="431.90" width="18.20" height="87.90" fill="#fdbf82"/>
<path d="M378.40 520.70 V300.80 H651.50 V520.70" fill="none" stroke="#333" stroke-width="1.2"/>
<text x="376.50" y="523.80" font-size="13.00" font-weight="bold" font-style="normal" text-anchor="end" font-family='"Liberation Sans", sans-serif' >0</text>
<text x="652.10" y="523.80" font-size="13.00" font-weight="bold" font-style="normal" text-anchor="start" font-family='"Liberation Sans", sans-serif' >0</text>
<line x1="378.40" y1="457.43" x2="382.40" y2="457.43" stroke="#333" stroke-width="1.1"/>
<line x1="651.50" y1="457.43" x2="647.50" y2="457.43" stroke="#333" stroke-width="1.1"/>
<text x="376.50" y="461.13" font-size="13.00" font-weight="bold" font-style="normal" text-anchor="end" font-family='"Liberation Sans", sans-serif' >40</text>
<text x="652.10" y="461.13" font-size="13.00" font-weight="bold" font-style="normal" text-anchor="start" font-family='"Liberation Sans", sans-serif' >40</text>
<line x1="378.40" y1="394.76" x2="382.40" y2="394.76" stroke="#333" stroke-width="1.1"/>
<line x1="651.50" y1="394.76" x2="647.50" y2="394.76" stroke="#333" stroke-width="1.1"/>
<text x="376.50" y="398.46" font-size="13.00" font-weight="bold" font-style="normal" text-anchor="end" font-family='"Liberation Sans", sans-serif' >80</text>
<text x="652.10" y="398.46" font-size="13.00" font-weight="bold" font-style="normal" text-anchor="start" font-family='"Liberation Sans", sans-serif' >80</text>
<line x1="378.40" y1="332.10" x2="382.40" y2="332.10" stroke="#333" stroke-width="1.1"/>
<line x1="651.50" y1="332.10" x2="647.50" y2="332.10" stroke="#333" stroke-width="1.1"/>
<text x="376.50" y="335.80" font-size="13.00" font-weight="bold" font-style="normal" text-anchor="end" font-family='"Liberation Sans", sans-serif' >120</text>
<text x="652.10" y="335.80" font-size="13.00" font-weight="bold" font-style="normal" text-anchor="start" font-family='"Liberation Sans", sans-serif' >120</text>
<line x1="378.40" y1="488.77" x2="380.90" y2="488.77" stroke="#333" stroke-width="1.1"/>
<line x1="651.50" y1="488.77" x2="649.00" y2="488.77" stroke="#333" stroke-width="1.1"/>
<line x1="378.40" y1="426.10" x2="380.90" y2="426.10" stroke="#333" stroke-width="1.1"/>
<line x1="651.50" y1="426.10" x2="649.00" y2="426.10" stroke="#333" stroke-width="1.1"/>
<line x1="378.40" y1="363.43" x2="380.90" y2="363.43" stroke="#333" stroke-width="1.1"/>
<line x1="651.50" y1="363.43" x2="649.00" y2="363.43" stroke="#333" stroke-width="1.1"/>
<line x1="412.40" y1="520.10" x2="412.40" y2="524.70" stroke="#333" stroke-width="1.2"/>
<text x="412.40" y="541.30" font-size="16.50" font-weight="bold" font-style="italic" text-anchor="middle" font-family='"Liberation Sans", sans-serif' >Hc</text>
<line x1="480.67" y1="520.10" x2="480.67" y2="524.70" stroke="#333" stroke-width="1.2"/>
<text x="480.67" y="541.30" font-size="16.50" font-weight="bold" font-style="italic" text-anchor="middle" font-family='"Liberation Sans", sans-serif' >Hm</text>
<line x1="548.93" y1="520.10" x2="548.93" y2="524.70" stroke="#333" stroke-width="1.2"/>
<text x="548.93" y="541.30" font-size="16.50" font-weight="bold" font-style="italic" text-anchor="middle" font-family='"Liberation Sans", sans-serif' >Tc</text>
<line x1="617.20" y1="520.10" x2="617.20" y2="524.70" stroke="#333" stroke-width="1.2"/>
<text x="617.20" y="541.30" font-size="16.50" font-weight="bold" font-style="italic" text-anchor="middle" font-family='"Liberation Sans", sans-serif' >Tm</text>
<rect x="549.60" y="315.30" width="25.20" height="12.30" fill="url(#gb)"/>
<text x="578.50" y="325.30" font-size="11.00" font-weight="bold" font-style="normal" text-anchor="start" font-family='"Liberation Sans", sans-serif' >YPM60</text>
<rect x="549.60" y="329.55" width="25.20" height="12.30" fill="#80fdfd"/>
<text x="578.50" y="339.55" font-size="11.00" font-weight="bold" font-style="normal" text-anchor="start" font-family='"Liberation Sans", sans-serif' >YPM60-100</text>
<rect x="549.60" y="343.80" width="25.20" height="12.30" fill="#fdbf82"/>
<text x="578.50" y="353.80" font-size="11.00" font-weight="bold" font-style="normal" text-anchor="start" font-family='"Liberation Sans", sans-serif' >YPM60-500</text>
<text x="345.00" y="304.00" font-size="32.00" font-weight="bold" font-style="normal" text-anchor="start" font-family='"Liberation Sans", sans-serif' >d</text>
<line x1="396.40" y1="349.00" x2="429.03" y2="383.27" stroke="#000" stroke-width="1.15"/>
<path d="M434.20 388.70 L427.51 384.72 L430.55 381.82 Z" fill="#000"/>
<line x1="462.80" y1="343.70" x2="495.44" y2="378.06" stroke="#000" stroke-width="1.15"/>
<path d="M500.60 383.50 L493.91 379.51 L496.96 376.62 Z" fill="#000"/>
<line x1="411.80" y1="352.60" x2="411.80" y2="361.70" stroke="#333" stroke-width="1.1"/>
<path d="M409.40 359.00 L411.80 362.20 L414.20 359.00" fill="none" stroke="#333" stroke-width="1.1"/>
<text x="414.50" y="362.50" font-size="11.20" font-weight="bold" font-family='"Liberation Sans", sans-serif'>22.5%</text>
<line x1="483.90" y1="353.60" x2="483.90" y2="362.30" stroke="#333" stroke-width="1.1"/>
<path d="M481.50 359.60 L483.90 362.80 L486.30 359.60" fill="none" stroke="#333" stroke-width="1.1"/>
<text x="486.50" y="363.80" font-size="11.20" font-weight="bold" font-family='"Liberation Sans", sans-serif'>19.6%</text>
<text transform="translate(359.70 493.70) rotate(-90)" font-size="17.3" font-weight="bold" font-family='"Liberation Sans", sans-serif' text-anchor="start" style="white-space:pre">Latent Heat  /J*g<tspan font-size="12" dy="-5.6">-1</tspan></text>
<text transform="translate(680.00 416.50) rotate(-90)" font-size="17.8" font-weight="bold" font-family='"Liberation Sans", sans-serif' text-anchor="middle">Temperature / °C</text>
</svg>
</body></html>
